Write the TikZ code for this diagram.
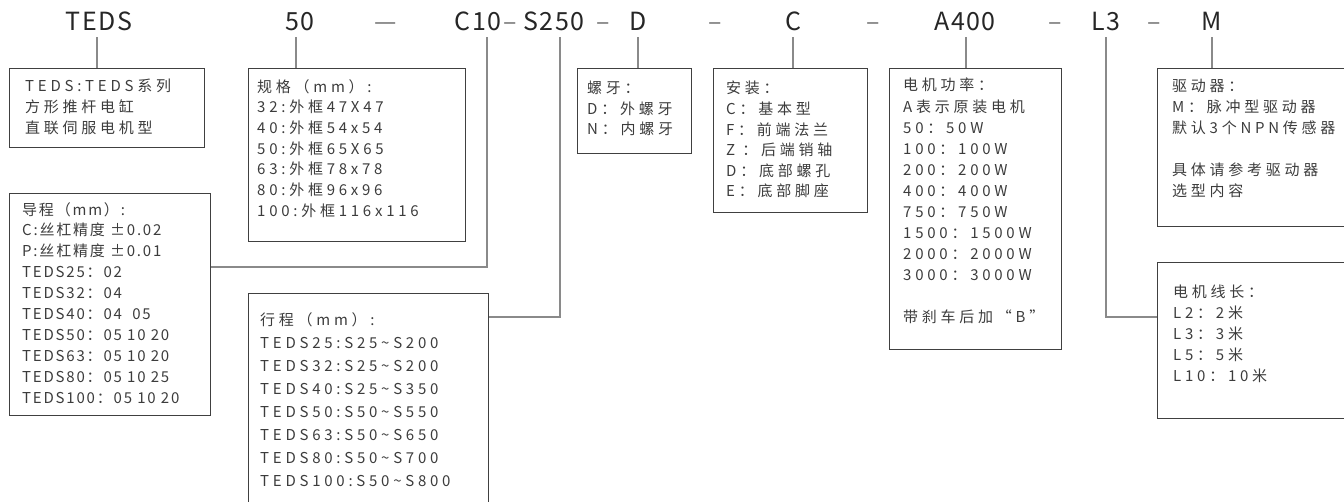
\documentclass[tikz,border=0pt]{standalone}
\usepackage{fontspec}
\setmainfont{Noto Sans CJK SC}
\newfontfamily\headfont[LetterSpace=6]{Noto Sans CJK SC}
\newfontfamily\boxfont[LetterSpace=25]{Noto Sans CJK SC}
\newfontfamily\leadfont[LetterSpace=12]{Noto Sans CJK SC}
\usepackage{tikz}

\definecolor{inkgray}{HTML}{3C3C3C}
\definecolor{linegray}{HTML}{8A8A8A}
\definecolor{boxgray}{HTML}{404040}

\begin{document}
\begin{tikzpicture}[x=1pt,y=-1pt,
	head/.style={inner sep=0pt,anchor=base,text=black!85,font=\headfont\fontsize{25}{30}\selectfont},
	joiner/.style={inner sep=0pt,anchor=base,text=black!55,font=\headfont\fontsize{25}{30}\selectfont},
	infobox/.style={draw=boxgray,line width=1.3pt,inner sep=0pt,anchor=north west},
	info/.style={inner sep=0pt,anchor=north west,align=left,text=inkgray,font=\boxfont\fontsize{15}{20.7}\selectfont},
	link/.style={draw=linegray,line width=1.2pt}]
	\useasboundingbox (0,0) rectangle (1344,501);
	\clip (0,0) rectangle (1344,501);
	%\draw [help lines,step=50] (0,0) grid (1344,501);
	% code line
	\node[head] (hseries) at (99,30) {TEDS};
	\node[head] (hsize) at (300,30) {50};
	\node[joiner] (j1) at (386,30) {—};
	\node[head] (hlead) at (478,30) {C10};
	\node[joiner] (j2) at (510,30) {–};
	\node[head] (htravel) at (554,30) {S250};
	\node[joiner] (j3) at (603,30) {–};
	\node[head] (hthread) at (638,30) {D};
	\node[joiner] (j4) at (715,30) {–};
	\node[head] (hmount) at (793,30) {C};
	\node[joiner] (j5) at (873,30) {–};
	\node[head] (hmotor) at (965,30) {A400};
	\node[joiner] (j6) at (1055,30) {–};
	\node[head] (hcable) at (1106,30) {L3};
	\node[joiner] (j7) at (1154,30) {–};
	\node[head] (hdriver) at (1212,30) {M};

	% boxes
	\node[infobox,minimum width=195,minimum height=79] (series) at (9,68) {};
	\node[infobox,minimum width=217,minimum height=173] (size) at (248,68) {};
	\node[infobox,minimum width=201,minimum height=222] (lead) at (9,193) {};
	\node[infobox,minimum width=240,minimum height=230] (travel) at (248,293) {};
	\node[infobox,minimum width=114,minimum height=85] (thread) at (577,68) {};
	\node[infobox,minimum width=154,minimum height=144] (mount) at (713,68) {};
	\node[infobox,minimum width=172,minimum height=281] (motor) at (889,68) {};
	\node[infobox,minimum width=203,minimum height=158] (driver) at (1157,68) {};
	\node[infobox,minimum width=203,minimum height=156] (cable) at (1157,262) {};

	\node[info] (tseries) at (25,79) {TEDS:TEDS系列\\方形推杆电缸\\直联伺服电机型};
	\node[info] (tsize) at (257,79) {规格（mm）:\\32:外框47X47\\40:外框54x54\\50:外框65X65\\63:外框78x78\\80:外框96x96\\100:外框116x116};
	\node[info,font=\leadfont\fontsize{15}{20.9}\selectfont] (tlead) at (22,202) {导程（mm）:\\C:丝杠精度 ±0.02\\P:丝杠精度 ±0.01\\TEDS25：02\\TEDS32：04\\TEDS40：04~~05\\TEDS50：05 10 20\\TEDS63：05 10 20\\TEDS80：05 10 25\\TEDS100：05 10 20};
	\node[info,font=\boxfont\fontsize{15}{23}\selectfont] (ttravel) at (260,312) {行程（mm）:\\TEDS25:S25\textasciitilde S200\\TEDS32:S25\textasciitilde S200\\TEDS40:S25\textasciitilde S350\\TEDS50:S50\textasciitilde S550\\TEDS63:S50\textasciitilde S650\\TEDS80:S50\textasciitilde S700\\TEDS100:S50\textasciitilde S800};
	\node[info,font=\boxfont\fontsize{15}{20.5}\selectfont] (tthread) at (587,81) {螺牙：\\D：外螺牙\\N：内螺牙};
	\node[info,font=\boxfont\fontsize{15}{20.6}\selectfont] (tmount) at (726,81) {安装：\\C：基本型\\F：前端法兰\\Z ：后端销轴\\D：底部螺孔\\E：底部脚座};
	\node[info,font=\boxfont\fontsize{15}{21.1}\selectfont] (tmotor) at (903,78) {电机功率：\\A表示原装电机\\50：50W\\100：100W\\200：200W\\400：400W\\750：750W\\1500：1500W\\2000：2000W\\3000：3000W\\[21pt]带刹车后加“B”};
	\node[info,font=\boxfont\fontsize{15}{21}\selectfont] (tdriver) at (1172,79) {驱动器：\\M：脉冲型驱动器\\默认3个NPN传感器\\[21pt]具体请参考驱动器\\选型内容};
	\node[info,font=\boxfont\fontsize{15}{20.8}\selectfont] (tcable) at (1173,285) {电机线长：\\L2：2米\\L3：3米\\L5：5米\\L10：10米};

	% connectors
	\coordinate (kseries) at (97,37);
	\coordinate (ksize) at (296,37);
	\coordinate (klead) at (487,37);
	\coordinate (ktravel) at (560,37);
	\coordinate (kthread) at (638,37);
	\coordinate (kmount) at (793,37);
	\coordinate (kmotor) at (966,37);
	\coordinate (kcable) at (1106,37);
	\coordinate (kdriver) at (1212,37);
	\coordinate (leadbend) at (487,267);
	\coordinate (travelbend) at (560,317);
	\coordinate (cablebend) at (1106,317);
	\draw[link] (kseries) -- (kseries |- series.north);
	\draw[link] (ksize) -- (ksize |- size.north);
	\draw[link] (klead) -- (leadbend) -- (leadbend -| lead.east);
	\draw[link] (ktravel) -- (travelbend) -- (travelbend -| travel.east);
	\draw[link] (kthread) -- (kthread |- thread.north);
	\draw[link] (kmount) -- (kmount |- mount.north);
	\draw[link] (kmotor) -- (kmotor |- motor.north);
	\draw[link] (kcable) -- (cablebend) -- (cablebend -| cable.west);
	\draw[link] (kdriver) -- (kdriver |- driver.north);
\end{tikzpicture}
\end{document}
